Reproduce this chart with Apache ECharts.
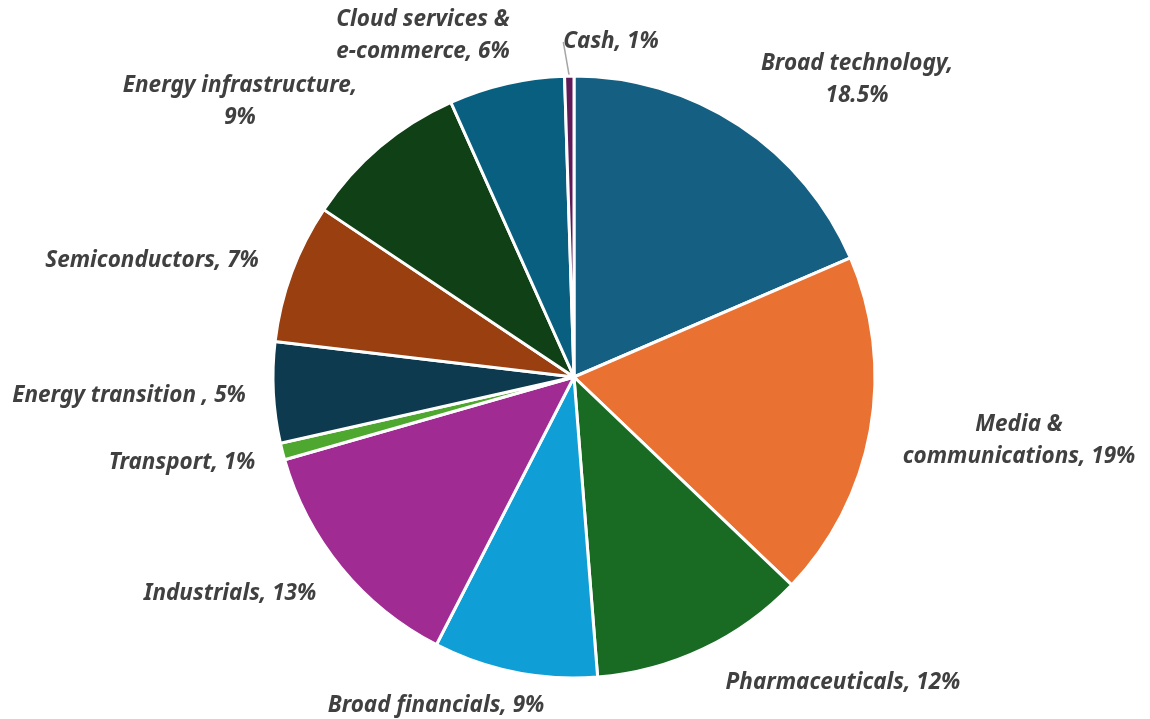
<!DOCTYPE html>
<html>
<head>
<meta charset="utf-8">
<script src="https://cdn.jsdelivr.net/npm/echarts@6/dist/echarts.min.js"></script>
<style>
html,body{margin:0;padding:0;background:#fff;}
#chart{width:1150px;height:719px;}
</style>
</head>
<body>
<div id="chart"></div>
<script>
// Data
const categories = ['Broad technology','Media & communications','Pharmaceuticals','Broad financials','Industrials','Transport','Energy transition','Semiconductors','Energy infrastructure','Cloud services & e-commerce','Cash'];
const values = [18.5, 18.6, 11.6, 8.8, 13.0, 0.9, 5.4, 7.5, 8.9, 6.2, 0.5];
const labelTexts = ['Broad technology,\n18.5%','Media &\ncommunications, 19%','Pharmaceuticals, 12%','Broad financials, 9%','Industrials, 13%','Transport, 1%','Energy transition , 5%','Semiconductors, 7%','Energy infrastructure,\n9%','Cloud services &\ne-commerce, 6%','Cash, 1%'];
const colors = ['#156082','#E97132','#196B24','#0F9ED5','#A02B93','#4EA72E','#0D3A4E','#993F10','#0F4016','#095F80','#601A58'];

// label placement (layout, not data)
const labelAnchors = [[857,80],[1019,441],[843,683],[436,706],[230,594],[182,463],[129,396],[152,261],[240,102],[423,36],[611,42]];

const chart = echarts.init(document.getElementById('chart'), null, {renderer:'canvas'});
const option = {
  animation: false,
  backgroundColor: '#ffffff',
  series: [{
    type: 'pie',
    center: [574, 377],
    radius: ['0%', 301],
    startAngle: 90,
    clockwise: true,
    avoidLabelOverlap: false,
    itemStyle: { borderColor: '#ffffff', borderWidth: 3 },
    label: {
      show: true,
      position: 'outside',
      fontFamily: 'Noto Sans',
      fontWeight: 'bold',
      fontStyle: 'italic',
      fontSize: 22.5,
      lineHeight: 32,
      color: '#404040',
      align: 'center',
      formatter: p => labelTexts[p.dataIndex]
    },
    labelLine: { show: false },
    labelLayout: function (params) {
      const a = labelAnchors[params.dataIndex];
      return { x: a[0], y: a[1], align: 'center', verticalAlign: 'middle' };
    },
    data: categories.map((c, i) => ({
      name: c,
      value: values[i],
      itemStyle: { color: colors[i] },
      labelLine: i === 10 ? { show: true, length: 14, length2: 0, lineStyle: { color: '#A6A6A6', width: 1.5 } } : undefined
    }))
  }]
};
chart.setOption(option);
</script>
</body>
</html>
